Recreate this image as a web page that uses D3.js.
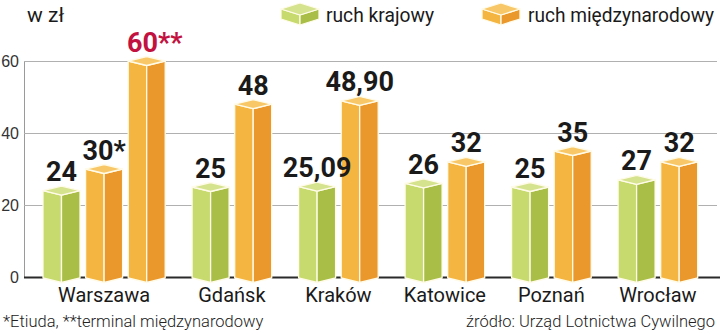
<!DOCTYPE html>
<html>
<head>
<meta charset="utf-8">
<script src="https://cdn.jsdelivr.net/npm/d3@7"></script>
<style>
	body { margin: 0; background: #fff; }
	svg { display: block; font-family: Roboto, sans-serif; }
	.tick text { font-size: 16px; font-weight: 300; fill: #333; }
	.value { font-size: 27px; font-weight: 700; fill: #1a1a1a; text-anchor: middle; }
	.value.highlight { fill: #c2123f; }
	.city { font-size: 20px; fill: #1a1a1a; text-anchor: middle; }
	.note { font-size: 16.5px; font-weight: 300; fill: #222; }
	.legend-label { font-size: 19.5px; fill: #1a1a1a; }
</style>
</head>
<body>
<script>
// data (zł)
var cities = ['Warszawa', 'Gdańsk', 'Kraków', 'Katowice', 'Poznań', 'Wrocław'];
var domestic = [24, 25, 25.09, 26, 25, 27];
var international = [30, 48, 48.90, 32, 35, 32];
var domesticLabels = ['24', '25', '25,09', '26', '25', '27'];
var internationalLabels = ['30*', '48', '48,90', '32', '35', '32'];
var terminalCity = 'Warszawa';
var terminalValue = 60;
var terminalLabel = '60**';
var yTicks = [0, 20, 40, 60];
var seriesNames = ['ruch krajowy', 'ruch międzynarodowy'];

var colors = {
	krajowy: { left: '#c6da6e', right: '#a8be47', top: '#d5e38f' },
	miedzynarodowy: { left: '#f5b541', right: '#ea982c', top: '#f8c868' }
};

var width = 720, height = 334;
var barWidth = 37, depth = 4.5;

var svg = d3.select('body').append('svg')
		.attr('width', width)
		.attr('height', height);

// bars in drawing order, each with a slot index (groups get half a slot of extra room)
var bars = [], slot = 0;
cities.forEach(function (city, i) {
	if (i > 0) slot += 0.5;
	bars.push({ city: city, series: 'krajowy', value: domestic[i], label: domesticLabels[i], slot: slot++ });
	bars.push({ city: city, series: 'miedzynarodowy', value: international[i], label: internationalLabels[i], slot: slot++ });
	if (city === terminalCity) {
		bars.push({ city: city, series: 'miedzynarodowy', value: terminalValue, label: terminalLabel, slot: slot++, highlight: true });
	}
});
var lastSlot = d3.max(bars, function (d) { return d.slot; });

var x = d3.scaleLinear()
		.domain([0, lastSlot])
		.range([43, 43 + lastSlot * 42.6]);

var y = d3.scaleLinear()
		.domain([0, 60])
		.range([277, 61]);

// grid + left axis
var axis = svg.append('g')
		.attr('transform', 'translate(24,0)')
		.call(d3.axisLeft(y)
				.tickValues(yTicks)
				.tickSizeInner(-(717 - 24))
				.tickSizeOuter(0)
				.tickPadding(5));

axis.select('.domain').attr('stroke', '#9a9a9a');
axis.selectAll('.tick line').attr('stroke', '#b0b0b0');
axis.selectAll('.tick text').attr('dy', '0.36em');
axis.selectAll('.tick').filter(function (d) { return d === 0; })
		.select('line')
		.attr('x2', 720 - 24)
		.attr('stroke', '#2a2a2a')
		.attr('stroke-width', 2);

function box(g, x0, w, yTop, yBase, d, c) {
	var x1 = x0 + w, xc = x0 + w / 2;
	var faces = [
		{ fill: c.left, pts: [[x0, yTop], [xc, yTop + d], [xc, yBase + d], [x0, yBase]] },
		{ fill: c.right, pts: [[xc, yTop + d], [x1, yTop], [x1, yBase], [xc, yBase + d]] },
		{ fill: c.top, pts: [[x0, yTop], [xc, yTop - d], [x1, yTop], [xc, yTop + d]] }
	];
	faces.forEach(function (f) {
		g.append('polygon')
				.attr('points', f.pts.map(function (p) { return p.join(','); }).join(' '))
				.attr('fill', f.fill)
				.attr('stroke', '#fffbe8')
				.attr('stroke-width', 1.3)
				.attr('stroke-linejoin', 'round');
	});
}

var barLayer = svg.append('g');
bars.forEach(function (d) {
	box(barLayer, x(d.slot), barWidth, y(d.value), y(0) + 1, depth, colors[d.series]);
});

svg.append('g').selectAll('text')
		.data(bars)
		.join('text')
		.attr('class', function (d) { return 'value' + (d.highlight ? ' highlight' : ''); })
		.attr('x', function (d) { return x(d.slot) + barWidth / 2 + (d.highlight ? 8 : 0); })
		.attr('y', function (d) { return y(d.value) - depth - 5; })
		.text(function (d) { return d.label; });

// city names under each group
svg.append('g').selectAll('text')
		.data(cities)
		.join('text')
		.attr('class', 'city')
		.attr('x', function (city) {
			var group = bars.filter(function (b) { return b.city === city; });
			return (x(group[0].slot) + x(group[group.length - 1].slot) + barWidth) / 2;
		})
		.attr('y', 302)
		.text(function (city) { return city; });

// unit + legend
svg.append('text')
		.attr('class', 'legend-label')
		.attr('x', 27)
		.attr('y', 22)
		.style('font-size', '21px')
		.text('w zł');

var legend = svg.append('g');
[{ key: 'krajowy', x: 281, tx: 326, len: 108 }, { key: 'miedzynarodowy', x: 482, tx: 528, len: 186 }].forEach(function (l, i) {
	box(legend, l.x, 38, 9, 19, 6, colors[l.key]);
	legend.append('text')
			.attr('class', 'legend-label')
			.attr('x', l.tx)
			.attr('y', 22)
			.attr('textLength', l.len)
			.attr('lengthAdjust', 'spacingAndGlyphs')
			.text(seriesNames[i]);
});

// footnotes
svg.append('text')
		.attr('class', 'note')
		.attr('x', 3)
		.attr('y', 327)
		.text('*Etiuda, **terminal międzynarodowy');

svg.append('text')
		.attr('class', 'note')
		.attr('x', 715)
		.attr('y', 327)
		.attr('text-anchor', 'end')
		.text('źródło: Urząd Lotnictwa Cywilnego');
</script>
</body>
</html>
